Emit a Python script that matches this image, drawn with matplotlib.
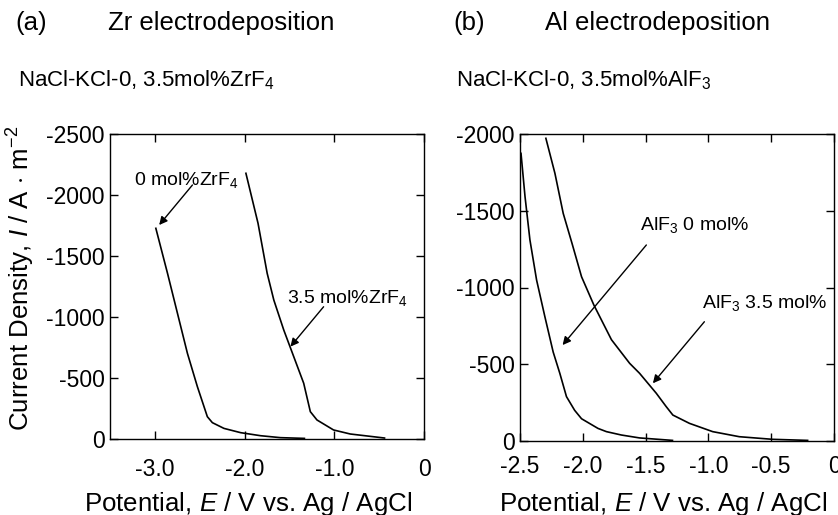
import numpy as np
import matplotlib
matplotlib.use("Agg")
import matplotlib.pyplot as plt

plt.rcParams['font.family'] = ['Liberation Sans', 'DejaVu Sans']
plt.rcParams['mathtext.fontset'] = 'custom'
plt.rcParams['mathtext.rm'] = 'Liberation Sans'
plt.rcParams['mathtext.it'] = 'Liberation Sans:italic'

# (a) Zr electrodeposition, potential (V) and current density (A/m2)
zr0_E = [-2.989, -2.859, -2.748, -2.637, -2.526, -2.415, -2.359, -2.23, -2.044, -1.822, -1.6, -1.333]
zr0_I = [-1727, -1358, -1030, -702, -429, -183, -134, -87, -52, -27, -11, -5]
zr35_E = [-1.985, -1.85, -1.748, -1.674, -1.563, -1.452, -1.341, -1.267, -1.193, -1.008, -0.822, -0.44]
zr35_I = [-2178, -1768, -1358, -1139, -893, -675, -457, -224, -156, -74, -41, -8]

# (b) Al electrodeposition
al0_E = [-2.492, -2.46, -2.421, -2.368, -2.302, -2.236, -2.183, -2.13, -2.065, -2.01,
         -1.879, -1.812, -1.693, -1.548, -1.286]
al0_I = [-1874, -1592, -1310, -1049, -810, -580, -441, -289, -200, -145,
         -82, -61, -39, -20, -4]
al35_E = [-2.294, -2.222, -2.156, -2.085, -2.01, -1.912, -1.772, -1.627, -1.548, -1.415,
          -1.336, -1.283, -1.151, -0.966, -0.754, -0.49, -0.21]
al35_I = [-1972, -1744, -1483, -1285, -1070, -886, -660, -506, -441, -311,
          -224, -169, -115, -61, -28, -11, -4]

fig = plt.figure(figsize=(8.38, 5.15), dpi=100)
axa = fig.add_axes([110/838, 1-439/515, 314/838, 305/515])
axb = fig.add_axes([520/838, 1-441/515, 314/838, 307/515])

xlabel = r"Potential, $\it{E}$ / V vs. Ag / AgCl"

def style(ax, xpad, labx, laby):
    ax.tick_params(direction='in', top=True, right=True, length=6, width=1,
                   labelsize=16.5)
    ax.tick_params(axis='x', pad=xpad)
    ax.tick_params(axis='y', pad=4)
    for s in ax.spines.values():
        s.set_linewidth(1)
    ax.set_xlabel(xlabel, fontsize=18.6)
    ax.xaxis.set_label_coords(labx, laby)

axa.plot(zr0_E, zr0_I, color='k', lw=1.2)
axa.plot(zr35_E, zr35_I, color='k', lw=1.2)
axa.set_xlim(-3.5, 0)
axa.set_ylim(0, -2500)
axa.set_xticks([-3, -2, -1, 0])
axa.set_xticklabels(['-3.0', '-2.0', '-1.0', '0'])
axa.set_yticks([0, -500, -1000, -1500, -2000, -2500])
axa.set_yticklabels(['0', '-500', '-1000', '-1500', '-2000', '-2500'])
style(axa, 14, 0.44, -0.168)
axa.set_ylabel(r"Current Density, $\it{I}$ / A $\cdot$ m$^{-2}$", fontsize=18.6)
axa.yaxis.set_label_coords(-0.232, 0.528)

arr = dict(arrowstyle='-|>', color='k', lw=1, mutation_scale=12, shrinkA=0, shrinkB=0)
axa.text(-3.233, -2123, r"0 mol%ZrF$_4$", fontsize=14, va='center', ha='left')
axa.annotate('', xy=(-2.952, -1754), xytext=(-2.581, -2082), arrowprops=arr)
axa.text(-1.522, -1156, r"3.5 mol%ZrF$_4$", fontsize=14, va='center', ha='left')
axa.annotate('', xy=(-1.489, -757), xytext=(-1.119, -1084), arrowprops=arr)

axb.plot(al0_E, al0_I, color='k', lw=1.2)
axb.plot(al35_E, al35_I, color='k', lw=1.2)
axb.set_xlim(-2.5, 0)
axb.set_ylim(0, -2000)
axb.set_xticks([-2.5, -2, -1.5, -1, -0.5, 0])
axb.set_xticklabels(['-2.5', '-2.0', '-1.5', '-1.0', '-0.5', '0'])
axb.set_yticks([0, -500, -1000, -1500, -2000])
axb.set_yticklabels(['0', '-500', '-1000', '-1500', '-2000'])
style(axb, 10, 0.457, -0.159)

axb.text(-1.548, -1407, r"AlF$_3$ 0 mol%", fontsize=14, va='center', ha='left')
axb.annotate('', xy=(-2.161, -625), xytext=(-1.494, -1277), arrowprops=arr)
axb.text(-1.05, -897, r"AlF$_3$ 3.5 mol%", fontsize=14, va='center', ha='left')
axb.annotate('', xy=(-1.442, -376), xytext=(-1.032, -777), arrowprops=arr)

def ftext(x, y, s, size):
    fig.text(x/838, 1-y/515, s, fontsize=size, ha='left', va='center')

ftext(15, 23, "(a)", 18.5)
ftext(108, 23, "Zr electrodeposition", 18.5)
ftext(18, 80, r"NaCl-KCl-0, 3.5mol%ZrF$_4$", 16)
ftext(453, 23, "(b)", 18.5)
ftext(545, 23, "Al electrodeposition", 18.5)
ftext(456, 80, r"NaCl-KCl-0, 3.5mol%AlF$_3$", 16)

fig.savefig("out.png", dpi=100)
